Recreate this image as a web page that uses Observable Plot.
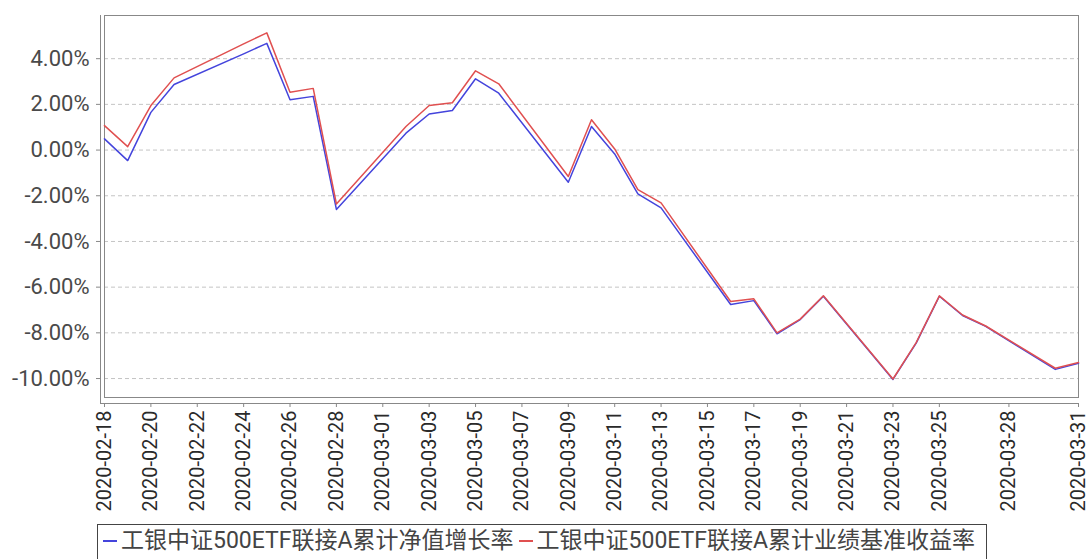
<!DOCTYPE html>
<html>
<head>
<meta charset="utf-8">
<script src="https://cdn.jsdelivr.net/npm/d3@7"></script>
<script src="https://cdn.jsdelivr.net/npm/@observablehq/plot@0.6"></script>
<style>
  html, body { margin: 0; padding: 0; background: #fff; }
  body { width: 1088px; height: 559px; overflow: hidden; position: relative; font-family: Roboto, "Noto Sans CJK SC", sans-serif; }
  #legend { position: absolute; left: 97px; top: 524px; border: 1px solid #444; padding: 2px 6px 10px 5px; font-size: 23px; color: #444; white-space: nowrap; background: #fff; line-height: 28px; }
  #legend .sw { display: inline-block; width: 14px; height: 2px; vertical-align: middle; margin-right: 4px; margin-top: -2px; }
  #legend .item { margin-right: 5px; }
</style>
</head>
<body>
<div id="chart"></div>
<div id="legend"></div>
<script>
const dates = ["2020-02-18","2020-02-19","2020-02-20","2020-02-21","2020-02-24","2020-02-25","2020-02-26","2020-02-27","2020-02-28","2020-03-02","2020-03-03","2020-03-04","2020-03-05","2020-03-06","2020-03-09","2020-03-10","2020-03-11","2020-03-12","2020-03-13","2020-03-16","2020-03-17","2020-03-18","2020-03-19","2020-03-20","2020-03-23","2020-03-24","2020-03-25","2020-03-26","2020-03-27","2020-03-30","2020-03-31"];
const navGrowth = [0.49, -0.46, 1.65, 2.87, 4.21, 4.67, 2.20, 2.35, -2.60, 0.74, 1.58, 1.73, 3.12, 2.49, -1.41, 1.03, -0.17, -1.92, -2.53, -6.76, -6.59, -8.04, -7.42, -6.40, -10.04, -8.45, -6.40, -7.24, -7.72, -9.60, -9.33];
const benchmark = [1.07, 0.15, 1.95, 3.16, 4.65, 5.13, 2.53, 2.70, -2.36, 1.03, 1.95, 2.07, 3.47, 2.90, -1.16, 1.33, 0.05, -1.73, -2.31, -6.63, -6.51, -8.00, -7.40, -6.38, -10.02, -8.43, -6.38, -7.22, -7.70, -9.55, -9.30];
const seriesNames = ["工银中证500ETF联接A累计净值增长率", "工银中证500ETF联接A累计业绩基准收益率"];
const seriesColors = ["#4444dc", "#e05050"];
const xTickLabels = ["2020-02-18","2020-02-20","2020-02-22","2020-02-24","2020-02-26","2020-02-28","2020-03-01","2020-03-03","2020-03-05","2020-03-07","2020-03-09","2020-03-11","2020-03-13","2020-03-15","2020-03-17","2020-03-19","2020-03-21","2020-03-23","2020-03-25","2020-03-28","2020-03-31"];
const yTicks = [-10, -8, -6, -4, -2, 0, 2, 4];
const yDomain = [-10.83, 5.89];
const xDomainLabels = ["2020-02-18", "2020-03-31"];

const parse = d3.utcParse("%Y-%m-%d");
const xDomain = xDomainLabels.map(parse);
const xTicks = xTickLabels.map(parse);
const rows = [];
[navGrowth, benchmark].forEach((vals, s) => {
  vals.forEach((v, i) => rows.push({date: parse(dates[i]), value: v, series: seriesNames[s]}));
});

const chart = Plot.plot({
  width: 1088,
  height: 524,
  marginTop: 15,
  marginLeft: 100,
  marginRight: 10,
  marginBottom: 121,
  style: "font-family: Roboto, 'Noto Sans CJK SC', sans-serif; font-size: 20px; background: #fff; overflow: visible;",
  x: {type: "utc", domain: xDomain, insetLeft: 4, axis: null},
  y: {domain: yDomain, insetBottom: 6, axis: null},
  color: {domain: seriesNames, range: seriesColors},
  marks: [
    Plot.ruleY(yTicks, {x1: xDomain[0], x2: xDomain[1], stroke: "#c4c4c4", strokeDasharray: "4,3"}),
    Plot.frame({insetLeft: 4, insetBottom: 6, stroke: "#888"}),
    Plot.ruleX([xDomain[0]], {dx: -4, stroke: "#888"}),
    Plot.ruleY([yDomain[0]], {dy: 6, stroke: "#888"}),
    Plot.axisY({ticks: yTicks, tickFormat: d => d.toFixed(2) + "%", tickSize: 4, tickPadding: 7, stroke: "#888", fill: "#4a4a4a", fontSize: 22, label: null}),
    Plot.axisX({ticks: xTicks, tickFormat: d3.utcFormat("%Y-%m-%d"), tickRotate: -90, tickSize: 4, tickPadding: 3, stroke: "#888", fill: "#2a2a2a", fontSize: 20, label: null}),
    Plot.lineY(rows, {x: "date", y: "value", stroke: "series", strokeWidth: 1.5})
  ]
});
document.getElementById("chart").appendChild(chart);

const legend = document.getElementById("legend");
seriesNames.forEach((name, i) => {
  const item = document.createElement("span");
  item.className = "item";
  const sw = document.createElement("span");
  sw.className = "sw";
  sw.style.background = seriesColors[i];
  item.appendChild(sw);
  item.appendChild(document.createTextNode(name));
  legend.appendChild(item);
});
</script>
</body>
</html>
